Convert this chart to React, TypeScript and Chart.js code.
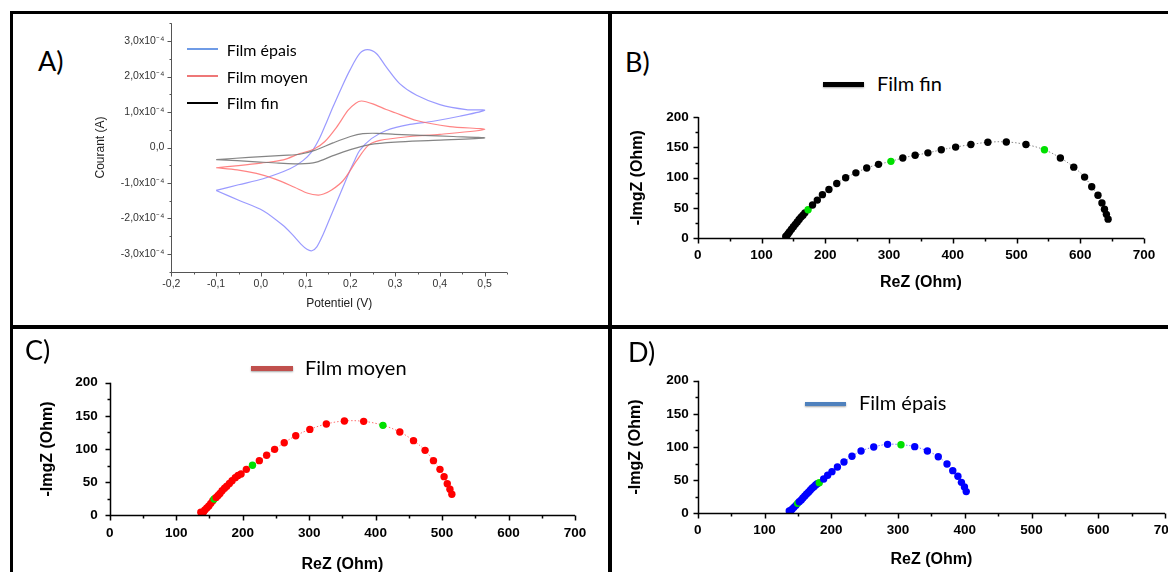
import React, { useEffect, useRef } from 'react';
import { Chart, registerables } from 'chart.js';

Chart.register(...registerables);
Chart.defaults.font.family = "'Liberation Sans', Arial, sans-serif";

// ---------- Panel A : cyclic voltammetry ----------
const cvPotentialTicks = [-0.2, -0.1, 0.0, 0.1, 0.2, 0.3, 0.4, 0.5];
const cvCurrentTicks = [-3e-4, -2e-4, -1e-4, 0, 1e-4, 2e-4, 3e-4];

const epaisV = [-0.1, -0.05, 0.005, 0.065, 0.094, 0.113, 0.13, 0.145, 0.161, 0.18, 0.199, 0.221, 0.238, 0.258, 0.28, 0.31, 0.348, 0.4, 0.459, 0.5,
  0.444, 0.385, 0.333, 0.28, 0.247, 0.221, 0.21, 0.199, 0.184, 0.169, 0.154, 0.139, 0.125, 0.114, 0.103, 0.09, 0.07, 0.05, 0.005, -0.047, -0.1];
const epaisI = [-1.21e-4, -1.05e-4, -0.88e-4, -0.6e-4, -0.37e-4, -0.13e-4, 0.23e-4, 0.66e-4, 1.14e-4, 1.68e-4, 2.18e-4, 2.65e-4, 2.76e-4, 2.65e-4, 2.27e-4, 1.8e-4, 1.47e-4, 1.21e-4, 1.07e-4, 1.05e-4,
  0.88e-4, 0.74e-4, 0.65e-4, 0.48e-4, 0.25e-4, -0.08e-4, -0.35e-4, -0.65e-4, -1.1e-4, -1.55e-4, -2.0e-4, -2.45e-4, -2.8e-4, -2.91e-4, -2.87e-4, -2.73e-4, -2.45e-4, -2.2e-4, -1.78e-4, -1.5e-4, -1.21e-4];

const moyenV = [-0.1, -0.05, 0.0, 0.05, 0.087, 0.118, 0.143, 0.169, 0.195, 0.212, 0.225, 0.25, 0.28, 0.3, 0.348, 0.422, 0.5,
  0.4, 0.333, 0.266, 0.24, 0.214, 0.184, 0.158, 0.14, 0.128, 0.105, 0.075, 0.032, -0.01, -0.053, -0.1];
const moyenI = [-0.57e-4, -0.51e-4, -0.44e-4, -0.35e-4, -0.17e-4, -0.05e-4, 0.17e-4, 0.57e-4, 1.05e-4, 1.25e-4, 1.31e-4, 1.23e-4, 1.07e-4, 0.98e-4, 0.76e-4, 0.59e-4, 0.51e-4,
  0.37e-4, 0.31e-4, 0.2e-4, 0.06e-4, -0.37e-4, -0.93e-4, -1.2e-4, -1.31e-4, -1.34e-4, -1.29e-4, -1.12e-4, -0.89e-4, -0.73e-4, -0.63e-4, -0.57e-4];

const finV = [-0.1, -0.027, 0.05, 0.087, 0.12, 0.161, 0.2, 0.228, 0.26, 0.3, 0.36, 0.43, 0.5,
  0.385, 0.3, 0.243, 0.2, 0.161, 0.124, 0.087, 0.04, -0.002, -0.053, -0.1];
const finI = [-0.34e-4, -0.28e-4, -0.22e-4, -0.19e-4, -0.08e-4, 0.13e-4, 0.31e-4, 0.39e-4, 0.4e-4, 0.37e-4, 0.34e-4, 0.31e-4, 0.27e-4,
  0.2e-4, 0.15e-4, 0.08e-4, -0.06e-4, -0.23e-4, -0.41e-4, -0.46e-4, -0.44e-4, -0.41e-4, -0.37e-4, -0.34e-4];

// ---------- Panels B, C, D : Nyquist ----------
const reZTicks = [0, 100, 200, 300, 400, 500, 600, 700];
const imZTicks = [0, 50, 100, 150, 200];

const finReZ = [138, 140, 142, 144, 147, 150, 153, 156, 159, 162, 165, 168, 173, 180, 187.5, 195.5, 205.7, 218, 232, 248, 265, 283.5, 303, 321.6, 341, 361, 382, 404.5, 428.4, 455, 484, 514.8, 543.8, 568.8, 589.8, 606.8, 618, 627.8, 634, 638, 641, 643.7];
const finImZ = [3, 5, 8, 11, 15, 19, 23, 27, 31, 35, 38, 42, 47, 55, 63, 72, 80.5, 90.5, 100, 108, 116, 122, 127, 132.6, 137, 141, 146, 150.5, 154.7, 158.4, 159, 154.7, 146, 132.6, 117.4, 101, 85, 71, 58.4, 48, 39.5, 31.6];
const finMarked = [173, 303, 543.8];

const moyenReZ = [137, 139, 141, 143, 146, 149, 152, 155, 157, 160, 163, 165.8, 169, 172.7, 176, 180, 184, 188.8, 193, 197.5, 205.5, 214.7, 225, 236, 248, 262.5, 279.8, 301, 325.8, 353, 382, 411, 436.4, 457, 474.4, 487, 496.8, 503, 507.8, 511.8, 514.7];
const moyenImZ = [4.5, 3, 5, 8, 11, 14, 18, 22, 24.6, 27, 30, 33, 37, 40.7, 44, 48, 52, 56.8, 60, 62.3, 69.3, 75.4, 82.4, 90.5, 99.5, 109.5, 120, 129.6, 137.7, 142.2, 141.7, 135.7, 125.6, 112.6, 98, 82.4, 69.3, 58.3, 47.7, 39.2, 31.7];
const moyenMarked = [157, 214.7, 411];

const epaisReZ = [137, 139, 141.3, 144, 147, 149.5, 152, 155, 157.5, 160.3, 163, 165.8, 168.5, 171.2, 174, 176.6, 179, 182, 188.6, 194.6, 201, 209.2, 219, 231, 244.6, 263.6, 284.3, 304.4, 325, 344, 360.3, 373.4, 382, 389.7, 395, 399.5, 402.2];
const epaisImZ = [3.5, 4, 6, 9, 12, 15, 17.5, 20, 23, 26, 29, 31.7, 34.7, 37.7, 40, 42.7, 44.5, 46.2, 51.8, 57.3, 62.8, 69.8, 77.4, 86, 94, 100, 104, 103.5, 100.5, 94, 85.4, 74.4, 64.3, 55.8, 46.7, 39.7, 32.7];
const epaisMarked = [149.5, 182, 304.4];

// ---------- axis / tick drawing plugin ----------
const isMult = (v: number, step: number) => Math.abs(v / step - Math.round(v / step)) < 1e-6;

const axisPlugin = {
  id: 'axisTicks',
  afterDraw(chart: any, _args: any, o: any) {
    const { ctx, chartArea } = chart;
    const xs = chart.scales.x;
    const ys = chart.scales.y;
    ctx.save();
    ctx.strokeStyle = o.color;
    ctx.lineWidth = o.lineWidth;
    ctx.lineCap = 'butt';
    const L = Math.round(chartArea.left) + 0.5;
    const B = Math.round(chartArea.bottom) + 0.5;
    ctx.beginPath();
    ctx.moveTo(L, chartArea.top);
    ctx.lineTo(L, B);
    ctx.lineTo(chartArea.right, B);
    ctx.stroke();
    ctx.beginPath();
    const nx = Math.round((xs.max - xs.min) / o.xMinor);
    for (let i = 0; i <= nx; i++) {
      const v = xs.min + i * o.xMinor;
      const px = Math.round(xs.getPixelForValue(v)) + 0.5;
      const len = isMult(v, o.xMajor) ? o.majorLen : o.minorLen;
      ctx.moveTo(px, B);
      ctx.lineTo(px, B + len);
    }
    const ny = Math.round((ys.max - ys.min) / o.yMinor);
    for (let i = 0; i <= ny; i++) {
      const v = ys.min + i * o.yMinor;
      const py = Math.round(ys.getPixelForValue(v)) + 0.5;
      const len = isMult(v, o.yMajor) ? o.majorLen : o.minorLen;
      ctx.moveTo(L, py);
      ctx.lineTo(L - len, py);
    }
    ctx.stroke();
    ctx.restore();
  },
};

function ChartBox({ left, top, width, height, config }: any) {
  const ref = useRef<HTMLCanvasElement>(null);
  useEffect(() => {
    const chart = new Chart(ref.current as HTMLCanvasElement, config());
    return () => chart.destroy();
  }, []);
  return (
    <canvas
      ref={ref}
      width={width}
      height={height}
      style={{ position: 'absolute', left, top, width, height, display: 'block' }}
    />
  );
}

const toPts = (xs: number[], ys: number[]) => xs.map((x, i) => ({ x, y: ys[i] }));

function cvConfig() {
  const line = (label: string, v: number[], i: number[], color: string) => ({
    label,
    data: toPts(v, i),
    showLine: true,
    borderColor: color,
    borderWidth: 1.2,
    pointRadius: 0,
    tension: 0.3,
    fill: false,
  });
  const tickFont = { size: 10.5 };
  return {
    type: 'scatter',
    data: {
      datasets: [
        line('Film fin', finV, finI, 'rgba(120,120,120,0.9)'),
        line('Film moyen', moyenV, moyenI, 'rgba(255,110,110,0.85)'),
        line('Film épais', epaisV, epaisI, 'rgba(120,120,255,0.75)'),
      ],
    },
    options: {
      responsive: false,
      animation: false,
      devicePixelRatio: 1,
      layout: { padding: { left: 0, top: 12.7, right: 30, bottom: 0 } },
      plugins: {
        legend: { display: false },
        tooltip: { enabled: false },
        axisTicks: { color: '#555', lineWidth: 1, xMinor: 0.05, xMajor: 0.1, yMinor: 0.5e-4, yMajor: 1e-4, majorLen: 4, minorLen: 2 },
      },
      scales: {
        x: {
          type: 'linear',
          min: -0.2,
          max: 0.55,
          grid: { display: false, drawTicks: false },
          border: { display: false },
          afterBuildTicks: (s: any) => { s.ticks = cvPotentialTicks.map((value) => ({ value })); },
          afterFit: (s: any) => { s.height = 48.3; },
          ticks: {
            autoSkip: false,
            maxRotation: 0,
            padding: 6,
            color: '#333',
            font: tickFont,
            callback: (v: number) => v.toFixed(1).replace('.', ','),
          },
          title: { display: true, text: 'Potentiel (V)', color: '#222', font: { size: 12 }, padding: { top: 0, bottom: 9.5 } },
        },
        y: {
          type: 'linear',
          min: -3.5e-4,
          max: 3.5e-4,
          grid: { display: false, drawTicks: false },
          border: { display: false },
          afterBuildTicks: (s: any) => { s.ticks = cvCurrentTicks.map((value) => ({ value })); },
          afterFit: (s: any) => { s.width = 91.4; },
          ticks: {
            autoSkip: false,
            padding: 7,
            color: '#333',
            font: tickFont,
            callback: (v: number) => (Math.abs(v) < 1e-9 ? '0,0' : `${(v / 1e-4).toFixed(1).replace('.', ',')}x10⁻⁴`),
          },
          title: { display: true, text: 'Courant (A)', color: '#222', font: { size: 12 }, padding: { top: 13.1, bottom: 0 } },
        },
      },
    },
    plugins: [axisPlugin],
  };
}

function nyquistConfig(p: any) {
  const colors = p.re.map((x: number) => (p.marked.includes(x) ? '#00e000' : p.color));
  return () => ({
    type: 'scatter',
    data: {
      datasets: [
        {
          label: p.label,
          data: toPts(p.re, p.im),
          showLine: true,
          borderColor: p.lineColor,
          borderWidth: 1,
          borderDash: [1.5, 2],
          tension: 0.4,
          pointRadius: 3.7,
          pointBackgroundColor: colors,
          pointBorderColor: colors,
          pointBorderWidth: 0,
        },
      ],
    },
    options: {
      responsive: false,
      animation: false,
      devicePixelRatio: 1,
      layout: { padding: { left: 0, top: p.pt, right: 30, bottom: 0 } },
      plugins: {
        legend: { display: false },
        tooltip: { enabled: false },
        axisTicks: { color: '#000', lineWidth: 1.5, xMinor: 50, xMajor: 100, yMinor: 25, yMajor: 50, majorLen: 5, minorLen: 3 },
      },
      scales: {
        x: {
          type: 'linear',
          min: 0,
          max: 700,
          grid: { display: false, drawTicks: false },
          border: { display: false },
          afterBuildTicks: (s: any) => { s.ticks = reZTicks.map((value) => ({ value })); },
          afterFit: (s: any) => { s.height = p.hx; },
          ticks: { autoSkip: false, maxRotation: 0, padding: p.xPad, color: '#000', font: { size: 13.5, weight: 'bold' } },
          title: { display: true, text: 'ReZ (Ohm)', color: '#000', font: { size: 16, weight: 'bold' }, padding: { top: 0, bottom: p.xTitlePad } },
        },
        y: {
          type: 'linear',
          min: 0,
          max: 200,
          grid: { display: false, drawTicks: false },
          border: { display: false },
          afterBuildTicks: (s: any) => { s.ticks = imZTicks.map((value) => ({ value })); },
          afterFit: (s: any) => { s.width = p.wy; },
          ticks: { autoSkip: false, padding: p.yPad, color: '#000', font: { size: 13.5, weight: 'bold' } },
          title: { display: true, text: '-ImgZ (Ohm)', color: '#000', font: { size: 16, weight: 'bold' }, padding: { top: p.yTitlePad, bottom: 0 } },
        },
      },
    },
    plugins: [axisPlugin],
  });
}

const cfgB = nyquistConfig({ label: 'Film fin', re: finReZ, im: finImZ, marked: finMarked, color: '#000', lineColor: '#888', pt: 11.7, hx: 81.7, wy: 87.8, xPad: 9, yPad: 9, xTitlePad: 27.4, yTitlePad: 18.4 });
const cfgC = nyquistConfig({ label: 'Film moyen', re: moyenReZ, im: moyenImZ, marked: moyenMarked, color: '#ff0000', lineColor: '#ff7070', pt: 53.7, hx: 64.7, wy: 96.8, xPad: 10, yPad: 12, xTitlePad: 5.4, yTitlePad: 25.2 });
const cfgD = nyquistConfig({ label: 'Film épais', re: epaisReZ, im: epaisImZ, marked: epaisMarked, color: '#0000ff', lineColor: '#7070ff', pt: 51.7, hx: 66.7, wy: 85.8, xPad: 9, yPad: 9, xTitlePad: 10.4, yTitlePad: 14.4 });

function Txt({ x, baseline, size, children }: any) {
  return (
    <div
      style={{
        position: 'absolute',
        left: x,
        top: baseline - 0.887 * size,
        fontFamily: 'Lato, "Open Sans", sans-serif',
        fontSize: size,
        lineHeight: `${size}px`,
        whiteSpace: 'nowrap',
        color: '#000',
      }}
    >
      {children}
    </div>
  );
}

function LegLine({ x1, x2, y, h, color, shadow }: any) {
  return (
    <div
      style={{
        position: 'absolute',
        left: x1,
        top: y - h / 2,
        width: x2 - x1,
        height: h,
        background: color,
        boxShadow: shadow ? '0 1px 2px rgba(0,0,0,0.35)' : 'none',
      }}
    />
  );
}

const bar = (left: number, top: number, width: number, height: number) => (
  <div style={{ position: 'absolute', left, top, width, height, background: '#000' }} />
);

export default function App() {
  useEffect(() => {
    document.body.style.margin = '0';
  }, []);
  return (
    <div style={{ position: 'fixed', left: 0, top: 0, width: 1168, height: 572, overflow: 'hidden', background: '#fff' }}>
      <ChartBox left={80} top={10} width={457} height={310} config={cvConfig} />
      <ChartBox left={610} top={100} width={564} height={220} config={cfgB} />
      <ChartBox left={13} top={329} width={592} height={251} config={cfgC} />
      <ChartBox left={612} top={329} width={583} height={251} config={cfgD} />

      {bar(10, 11, 1158, 3)}
      {bar(10, 11, 3, 561)}
      {bar(608, 11, 4, 561)}
      {bar(10, 325, 1158, 4)}

      <Txt x={38} baseline={71} size={27}>A)</Txt>
      <Txt x={625} baseline={72} size={27}>B)</Txt>
      <Txt x={25} baseline={360} size={27}>C)</Txt>
      <Txt x={628} baseline={362} size={27}>D)</Txt>

      <LegLine x1={186.7} x2={218} y={49.3} h={2} color="#6f9be6" />
      <Txt x={226.7} baseline={56} size={16}>Film épais</Txt>
      <LegLine x1={186.7} x2={218} y={76} h={2} color="#ee7777" />
      <Txt x={226.7} baseline={82.7} size={16}>Film moyen</Txt>
      <LegLine x1={186.7} x2={218} y={103.3} h={2} color="#000" />
      <Txt x={226.7} baseline={109.3} size={16}>Film fin</Txt>

      <LegLine x1={823} x2={864} y={84.3} h={4.5} color="#000" shadow />
      <Txt x={877} baseline={91} size={20}>Film fin</Txt>

      <LegLine x1={250.7} x2={292.8} y={368.3} h={4.5} color="#c0504d" shadow />
      <Txt x={305} baseline={375} size={20}>Film moyen</Txt>

      <LegLine x1={804.7} x2={846.4} y={404} h={4.5} color="#4f81bd" shadow />
      <Txt x={859} baseline={410} size={20}>Film épais</Txt>
    </div>
  );
}
